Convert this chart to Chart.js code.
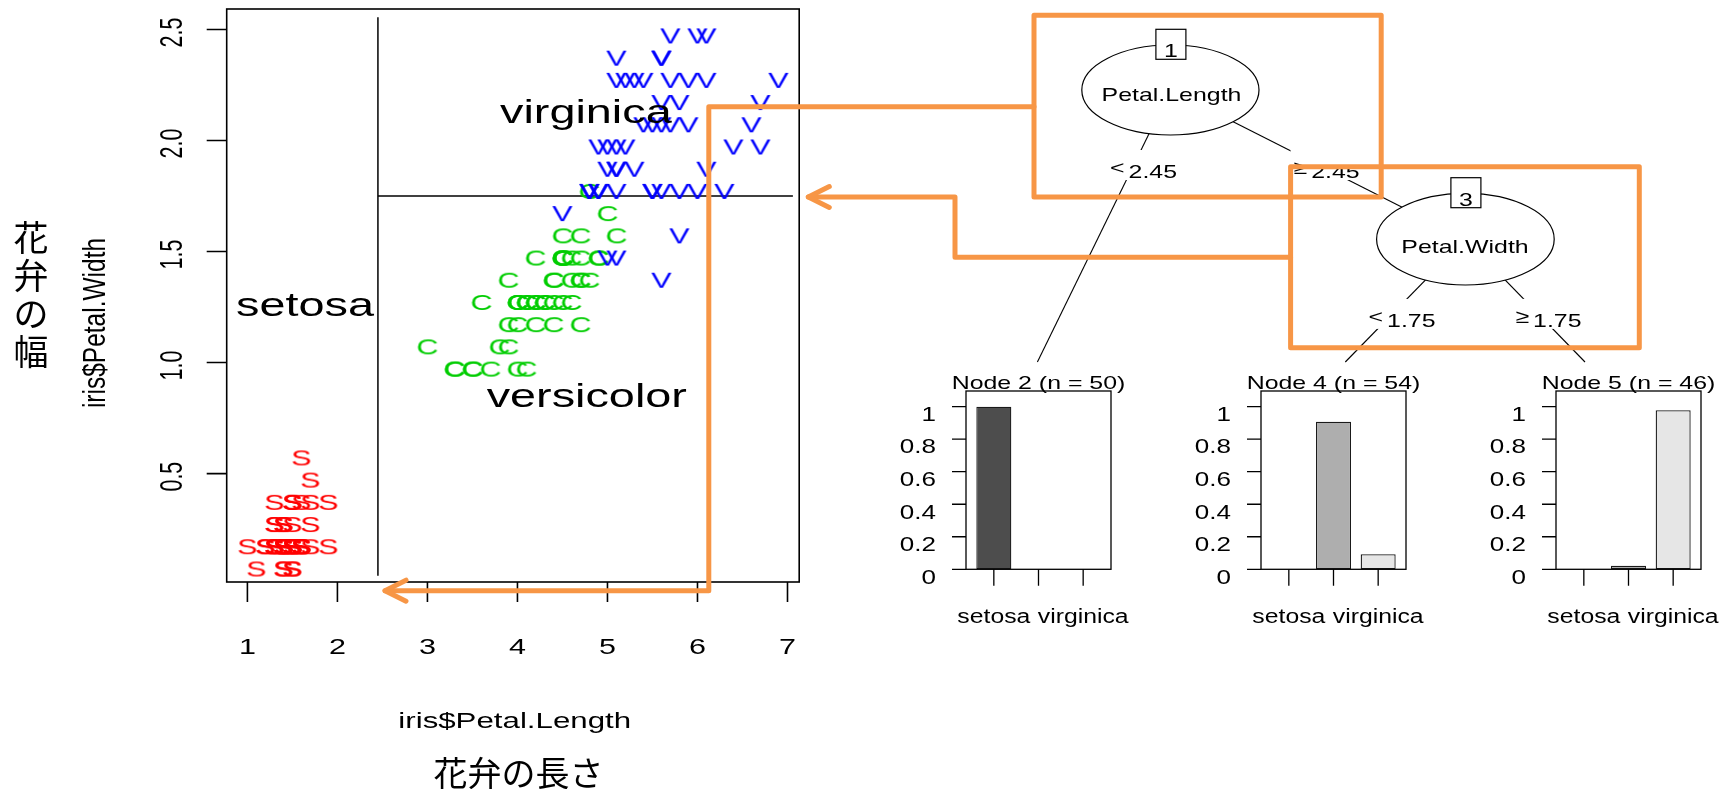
<!DOCTYPE html>
<html>
<head>
<meta charset="utf-8">
<title>iris rpart</title>
<script src="https://cdn.jsdelivr.net/npm/chart.js@4.4.1/dist/chart.umd.min.js"></script>
<style>
  html, body { margin: 0; padding: 0; background: #fff; }
  #page { position: relative; width: 1729px; height: 789px; overflow: hidden; }
  #page canvas { position: absolute; }
  #tree { pointer-events: none; left: 0; top: 0; }
</style>
</head>
<body>
<div id="page">
  <canvas id="scatterChart"></canvas>
  <canvas id="node2Chart"></canvas>
  <canvas id="node4Chart"></canvas>
  <canvas id="node5Chart"></canvas>
  <canvas id="tree"></canvas>
</div>
<script>
const FONT = '"Liberation Sans", Arial, sans-serif';
const JP_FONT = '"Noto Sans CJK JP", "Noto Sans CJK SC", sans-serif';
const ORANGE = "#F79646";

// iris petals, one pair of lists per species
const setosaLength = [1.4,1.4,1.3,1.5,1.4,1.7,1.4,1.5,1.4,1.5, 1.5,1.6,1.4,1.1,1.2,1.5,1.3,1.4,1.7,1.5,
                      1.7,1.5,1.0,1.7,1.9,1.6,1.6,1.5,1.4,1.6, 1.6,1.5,1.5,1.4,1.5,1.2,1.3,1.4,1.3,1.5,
                      1.3,1.3,1.3,1.6,1.9,1.4,1.6,1.4,1.5,1.4];
const setosaWidth = [0.2,0.2,0.2,0.2,0.2,0.4,0.3,0.2,0.2,0.1, 0.2,0.2,0.1,0.1,0.2,0.4,0.4,0.3,0.3,0.3,
                     0.2,0.4,0.2,0.5,0.2,0.2,0.4,0.2,0.2,0.2, 0.2,0.4,0.1,0.2,0.2,0.2,0.2,0.1,0.2,0.2,
                     0.3,0.3,0.2,0.6,0.4,0.3,0.2,0.2,0.2,0.2];
const versicolorLength = [4.7,4.5,4.9,4.0,4.6,4.5,4.7,3.3,4.6,3.9, 3.5,4.2,4.0,4.7,3.6,4.4,4.5,4.1,4.5,3.9,
                          4.8,4.0,4.9,4.7,4.3,4.4,4.8,5.0,4.5,3.5, 3.8,3.7,3.9,5.1,4.5,4.5,4.7,4.4,4.1,4.0,
                          4.4,4.6,4.0,3.3,4.2,4.2,4.2,4.3,3.0,4.1];
const versicolorWidth = [1.4,1.5,1.5,1.3,1.5,1.3,1.6,1.0,1.3,1.4, 1.0,1.5,1.0,1.4,1.3,1.4,1.5,1.0,1.5,1.1,
                         1.8,1.3,1.5,1.2,1.3,1.4,1.4,1.7,1.5,1.0, 1.1,1.0,1.2,1.6,1.5,1.6,1.5,1.3,1.3,1.3,
                         1.2,1.4,1.2,1.0,1.3,1.2,1.3,1.3,1.1,1.3];
const virginicaLength = [6.0,5.1,5.9,5.6,5.8,6.6,4.5,6.3,5.8,6.1, 5.1,5.3,5.5,5.0,5.1,5.3,5.5,6.7,6.9,5.0,
                         5.7,4.9,6.7,4.9,5.7,6.0,4.8,4.9,5.6,5.8, 6.1,6.4,5.6,5.1,5.6,6.1,5.6,5.5,4.8,5.4,
                         5.6,5.1,5.1,5.9,5.7,5.2,5.0,5.2,5.4,5.1];
const virginicaWidth = [2.5,1.9,2.1,1.8,2.2,2.1,1.7,1.8,1.8,2.5, 2.0,1.9,2.1,2.0,2.4,2.3,1.8,2.2,2.3,1.5,
                        2.3,2.0,2.0,1.8,2.1,1.8,1.8,1.8,2.1,1.6, 1.9,2.0,2.2,1.5,1.4,2.3,2.4,1.8,1.8,2.1,
                        2.4,2.3,1.9,2.3,2.5,2.3,1.9,2.0,2.3,1.8];

const xTicks = [1, 2, 3, 4, 5, 6, 7];
const yTicks = [0.5, 1.0, 1.5, 2.0, 2.5];
const yTickLabels = ["0.5", "1.0", "1.5", "2.0", "2.5"];

// tree splits and the partition lines they give
const splitLength = 2.45;
const splitWidth = 1.75;
const splitLengthSpan = [0.04, 2.555];
const splitWidthSpan = [2.45, 7.06];

const regionNames = ["setosa", "virginica", "versicolor"];
const regionX = [1.64, 4.76, 4.77];
const regionY = [1.21, 2.08, 0.80];

// terminal nodes: class proportions
const classes = ["setosa", "versicolor", "virginica"];
const node2Props = [1, 0, 0];
const node4Props = [0, 0.907, 0.093];
const node5Props = [0, 0.022, 0.978];
const nodeSizes = [50, 54, 46];
const propTicks = [0, 0.2, 0.4, 0.6, 0.8, 1];
const propTickLabels = ["0", "0.2", "0.4", "0.6", "0.8", "1"];

const classFills = ["#4D4D4D", "#AEAEAE", "#E6E6E6"];

// R text comes out wider than it is tall here, so text is drawn squeezed/stretched
function drawText(ctx, str, x, y, size, sx, align) {
  ctx.save();
  ctx.font = size + "px " + FONT;
  ctx.textAlign = align || "center";
  ctx.textBaseline = "alphabetic";
  ctx.translate(x, y);
  ctx.scale(sx, 1);
  ctx.fillText(str, 0, 0);
  ctx.restore();
}

function drawTextUp(ctx, str, x, y, size, sx) {
  ctx.save();
  ctx.font = size + "px " + FONT;
  ctx.textAlign = "center";
  ctx.textBaseline = "alphabetic";
  ctx.translate(x, y);
  ctx.scale(sx, 1);
  ctx.rotate(-Math.PI / 2);
  ctx.fillText(str, 0, 0);
  ctx.restore();
}

function textWidth(ctx, str, size, sx) {
  ctx.save();
  ctx.font = size + "px " + FONT;
  const w = ctx.measureText(str).width * sx;
  ctx.restore();
  return w;
}

const toPoints = (xs, ys) => xs.map((x, i) => ({ x, y: ys[i] }));

// letters used as plotting symbols
function letterMark(ch, color) {
  const c = document.createElement("canvas");
  c.width = 40;
  c.height = 48;
  const g = c.getContext("2d");
  g.fillStyle = color;
  g.font = "21.5px " + FONT;
  g.textAlign = "center";
  g.textBaseline = "alphabetic";
  g.translate(20, 24 + 6 + 0.358 * 21.5);
  g.scale(1.42, 1);
  g.fillText(ch, 0, 0);
  return c;
}

// ---------- scatter of petal length vs width ----------
const scatterAxes = {
  id: "scatterAxes",
  afterDraw(chart) {
    const ctx = chart.ctx;
    const { left, right, top, bottom } = chart.chartArea;
    const xs = chart.scales.x, ys = chart.scales.y;
    ctx.save();
    ctx.strokeStyle = "#000";
    ctx.fillStyle = "#000";
    ctx.lineWidth = 1.6;
    ctx.strokeRect(left, top, right - left, bottom - top);
    ctx.beginPath();
    xTicks.forEach(v => {
      const px = xs.getPixelForValue(v);
      ctx.moveTo(px, bottom);
      ctx.lineTo(px, bottom + 20);
    });
    yTicks.forEach(v => {
      const py = ys.getPixelForValue(v);
      ctx.moveTo(left, py);
      ctx.lineTo(left - 20, py);
    });
    ctx.stroke();

    xTicks.forEach(v => drawText(ctx, String(v), xs.getPixelForValue(v), 654, 21.5, 1.42));
    yTicks.forEach((v, i) => drawTextUp(ctx, yTickLabels[i], 181.5, ys.getPixelForValue(v) + 3, 21.5, 1.42));

    drawText(ctx, "iris$Petal.Length", 514.7, 728, 22, 1.42);
    drawTextUp(ctx, "iris$Petal.Width", 105, 323, 24.5, 1.25);

    regionNames.forEach((name, i) => {
      drawText(ctx, name, xs.getPixelForValue(regionX[i]), ys.getPixelForValue(regionY[i]), 32.5, 1.44);
    });

    ctx.textAlign = "center";
    ctx.textBaseline = "middle";
    ctx.font = "34px " + JP_FONT;
    ctx.fillText("花弁の長さ", 518.4, 773);
    ctx.font = "35px " + JP_FONT;
    [..."花弁の幅"].forEach((ch, i) => ctx.fillText(ch, 31, 238 + i * 37.8));
    ctx.restore();
  }
};

const scatterCanvas = document.getElementById("scatterChart");
scatterCanvas.width = 860;
scatterCanvas.height = 789;
scatterCanvas.style.left = "0px";
scatterCanvas.style.top = "0px";

new Chart(scatterCanvas, {
  type: "scatter",
  data: {
    datasets: [
      { label: "setosa", data: toPoints(setosaLength, setosaWidth),
        pointStyle: letterMark("S", "#FF0000"), pointRadius: 5, order: 3 },
      { label: "versicolor", data: toPoints(versicolorLength, versicolorWidth),
        pointStyle: letterMark("C", "#00CD00"), pointRadius: 5, order: 2 },
      { label: "virginica", data: toPoints(virginicaLength, virginicaWidth),
        pointStyle: letterMark("V", "#0000FF"), pointRadius: 5, order: 1 },
      { label: "Petal.Length split",
        data: [{ x: splitLength, y: splitLengthSpan[0] }, { x: splitLength, y: splitLengthSpan[1] }],
        showLine: true, borderColor: "#000", borderWidth: 1.5, pointRadius: 0, order: 4 },
      { label: "Petal.Width split",
        data: [{ x: splitWidthSpan[0], y: splitWidth }, { x: splitWidthSpan[1], y: splitWidth }],
        showLine: true, borderColor: "#000", borderWidth: 1.5, pointRadius: 0, order: 4 }
    ]
  },
  options: {
    responsive: false,
    animation: false,
    events: [],
    layout: { padding: { left: 226.7, top: 9, right: 60.8, bottom: 207 } },
    scales: {
      x: { type: "linear", display: false, min: 0.77, max: 7.13 },
      y: { type: "linear", display: false, min: 0.012, max: 2.592 }
    },
    plugins: { legend: { display: false }, tooltip: { enabled: false } }
  },
  plugins: [scatterAxes]
});

// ---------- terminal node bar plots ----------
function nodeAxes(nodeId, n) {
  return {
    id: "nodeAxes" + nodeId,
    afterDraw(chart) {
      const ctx = chart.ctx;
      const area = chart.chartArea;
      const xs = chart.scales.x, ys = chart.scales.y;
      const fl = area.left - 5.5, fr = area.right + 5.5;
      const ft = area.top + 0.6, fb = ys.getPixelForValue(0);
      ctx.save();
      ctx.strokeStyle = "#000";
      ctx.fillStyle = "#000";
      ctx.lineWidth = 1.3;
      ctx.strokeRect(fl, ft, fr - fl, fb - ft);
      ctx.beginPath();
      propTicks.forEach(v => {
        const py = ys.getPixelForValue(v);
        ctx.moveTo(fl, py);
        ctx.lineTo(fl - 14, py);
      });
      classes.forEach((c, i) => {
        const px = xs.getPixelForValue(i);
        ctx.moveTo(px, fb);
        ctx.lineTo(px, fb + 16.4);
      });
      ctx.stroke();

      propTicks.forEach((v, i) => drawText(ctx, propTickLabels[i], fl - 30, ys.getPixelForValue(v) + 14.3, 20.5, 1.27, "right"));

      // class names, skipping any that would collide like R's axis does
      let lastRight = -Infinity;
      classes.forEach((c, i) => {
        const px = xs.getPixelForValue(i);
        const w = textWidth(ctx, c, 19.5, 1.27);
        if (px - w / 2 > lastRight + 4) {
          drawText(ctx, c, px, fb + 53.2, 19.5, 1.27);
          lastRight = px + w / 2;
        }
      });

      drawText(ctx, "Node " + nodeId + " (n = " + n + ")", (fl + fr) / 2, ft - 1.7, 19, 1.31);
      ctx.restore();
    }
  };
}

function makeNodeChart(canvasId, frameLeft, props, n, nodeId) {
  const canvas = document.getElementById(canvasId);
  canvas.width = 255;
  canvas.height = 280;
  canvas.style.left = (frameLeft - 90) + "px";
  canvas.style.top = "355px";
  new Chart(canvas, {
    type: "bar",
    data: {
      labels: classes,
      datasets: [{
        data: props,
        backgroundColor: classFills,
        borderColor: "#1a1a1a",
        borderWidth: 1.3,
        borderSkipped: false,
        barPercentage: 0.784,
        categoryPercentage: 1
      }]
    },
    options: {
      responsive: false,
      animation: false,
      events: [],
      layout: { padding: { left: 95.5, right: 25.5, top: 35.4, bottom: 65.7 } },
      scales: {
        x: { display: false },
        y: { display: false, min: 0, max: 1.1 }
      },
      plugins: { legend: { display: false }, tooltip: { enabled: false } }
    },
    plugins: [nodeAxes(nodeId, n)]
  });
}

makeNodeChart("node2Chart", 965.5, node2Props, nodeSizes[0], 2);
makeNodeChart("node4Chart", 1260.8, node4Props, nodeSizes[1], 4);
makeNodeChart("node5Chart", 1556, node5Props, nodeSizes[2], 5);

// ---------- tree diagram and highlight arrows ----------
const tree = document.getElementById("tree");
tree.width = 1729;
tree.height = 789;
const tctx = tree.getContext("2d");

const inner = [
  { id: 1, x: 1170.4, y: 90, rx: 88.6, ry: 45, label: "Petal.Length", labelX: 1171.5, labelY: 100.6 },
  { id: 3, x: 1465.4, y: 239.2, rx: 88.8, ry: 45.8, label: "Petal.Width", labelX: 1465, labelY: 253 }
];
const edges = [
  { from: 0, to: [1037.4, 362], sym: "<", value: splitLength, cx: 1143.5, cy: 170.8 },
  { from: 0, to: [1465.4, 239.2], sym: "≥", value: splitLength, cx: 1326.6, cy: 170.8 },
  { from: 1, to: [1345.3, 362], sym: "<", value: splitWidth, cx: 1402, cy: 319.7 },
  { from: 1, to: [1585, 362], sym: "≥", value: splitWidth, cx: 1548.5, cy: 319.7 }
];

tctx.strokeStyle = "#000";
tctx.lineWidth = 1.1;
edges.forEach(e => {
  const p = inner[e.from];
  tctx.beginPath();
  tctx.moveTo(p.x, p.y);
  tctx.lineTo(e.to[0], e.to[1]);
  tctx.stroke();
});

inner.forEach(p => {
  tctx.beginPath();
  tctx.ellipse(p.x, p.y, p.rx, p.ry, 0, 0, Math.PI * 2);
  tctx.fillStyle = "#fff";
  tctx.fill();
  tctx.lineWidth = 1.2;
  tctx.stroke();
  const by = p.y - p.ry - 0.7;
  tctx.fillRect(p.x + 0.5 - 15, by - 15, 30, 30);
  tctx.strokeRect(p.x + 0.5 - 15, by - 15, 30, 30);
  tctx.fillStyle = "#000";
  drawText(tctx, String(p.id), p.x + 0.5, by + 13, 19, 1.31);
  drawText(tctx, p.label, p.labelX, p.labelY, 19, 1.31);
});

edges.forEach(e => {
  const num = e.value.toFixed(2);
  const symW = textWidth(tctx, e.sym, 19, 1.31);
  const numW = textWidth(tctx, num, 19, 1.31);
  const gap = 4;
  const start = e.cx - (symW + gap + numW) / 2;
  tctx.fillStyle = "#fff";
  tctx.fillRect(start - 3, e.cy - 20.8, symW + gap + numW + 6, 30);
  tctx.fillStyle = "#000";
  drawText(tctx, e.sym, start, e.cy + 6.8 - 4, 19, 1.31, "left");
  drawText(tctx, num, start + symW + gap, e.cy + 6.8, 19, 1.31, "left");
});

tctx.strokeStyle = ORANGE;
tctx.lineWidth = 5;
tctx.lineJoin = "round";
tctx.lineCap = "round";
tctx.strokeRect(1034, 15.3, 1381.2 - 1034, 197 - 15.3);
tctx.strokeRect(1290.6, 166.7, 1639.3 - 1290.6, 347.8 - 166.7);

function arrowPath(pts) {
  tctx.beginPath();
  tctx.moveTo(pts[0][0], pts[0][1]);
  pts.slice(1).forEach(p => tctx.lineTo(p[0], p[1]));
  tctx.stroke();
  const tip = pts[pts.length - 1];
  tctx.beginPath();
  tctx.moveTo(tip[0] + 21, tip[1] - 10.5);
  tctx.lineTo(tip[0], tip[1]);
  tctx.lineTo(tip[0] + 21, tip[1] + 10.5);
  tctx.stroke();
}
arrowPath([[1034, 106.7], [708.8, 106.7], [708.8, 590.7], [385, 590.7]]);
arrowPath([[1290.6, 257.3], [955, 257.3], [955, 197], [808.3, 197]]);
</script>
</body>
</html>
